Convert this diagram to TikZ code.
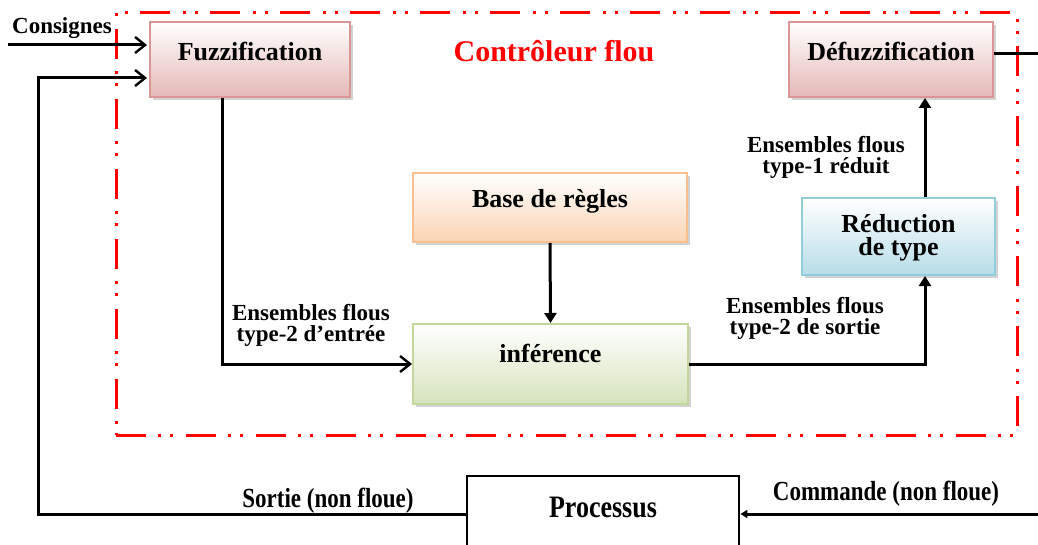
\documentclass[tikz,border=0pt]{standalone}
\usepackage{fontspec}
\setmainfont{Liberation Serif}
\usetikzlibrary{arrows.meta,shadows}
\definecolor{fuzzB}{RGB}{217,150,148}
\definecolor{fuzzF}{RGB}{229,184,183}
\definecolor{baseB}{RGB}{250,191,143}
\definecolor{baseF}{RGB}{251,212,180}
\definecolor{infB}{RGB}{195,214,155}
\definecolor{infF}{RGB}{214,227,188}
\definecolor{redB}{RGB}{146,205,220}
\definecolor{redF}{RGB}{183,221,232}
\definecolor{frameR}{RGB}{255,0,0}
\tikzset{
  gbox/.style={draw=#1B, line width=1pt, top color=white, bottom color=#1F,
    drop shadow={shadow xshift=1.5pt, shadow yshift=-1.5pt, fill=gray, opacity=0.35},
    inner sep=0pt},
  mainlbl/.style={font=\bfseries\fontsize{13}{11.5}\selectfont, align=center, inner sep=0pt},
  smalllbl/.style={font=\bfseries\fontsize{11.5}{10.5}\selectfont, align=center, inner sep=0pt},
  conn/.style={line width=1.5pt, black},
  openarrow/.style={conn, -{Straight Barb[length=5pt,width=8pt,line width=1.2pt]}},
  filledarrow/.style={conn, -{Triangle[length=5pt,width=6pt]}},
  smallarrow/.style={conn, -{Triangle[length=3.5pt,width=4pt]}},
  ctrlframe/.style={draw=frameR, line width=1.5pt,
    dash pattern=on 15pt off 6pt on 1.5pt off 4.5pt on 1.5pt off 6.5pt},
}
\begin{document}
\begin{tikzpicture}[x=0.5pt,y=-0.5pt]
\clip (0,0) rectangle (1038,545);
\fill[white] (0,0) rectangle (1038,545);

% controller frame
\node[ctrlframe, minimum width=450.5pt, minimum height=211pt, inner sep=0pt] (frame) at (566.5,224) {};
\node[font=\bfseries\fontsize{15}{15}\selectfont, text=frameR, inner sep=0pt] (title) at (554,51) {Contrôleur flou};

% boxes
\node[gbox=fuzz, minimum width=100pt, minimum height=37.5pt] (fuzz) at (250,59.5) {};
\node[mainlbl] (fuzzt) at (250,52) {Fuzzification};
\node[gbox=fuzz, minimum width=102pt, minimum height=37.5pt] (defuz) at (891,59.5) {};
\node[mainlbl] (defuzt) at (891,52) {Défuzzification};
\node[gbox=base, minimum width=137pt, minimum height=34.5pt] (base) at (550,207.5) {};
\node[mainlbl] (baset) at (550,201) {Base de règles};
\node[gbox=inf, minimum width=137.5pt, minimum height=40pt] (infer) at (550.5,364) {};
\node[mainlbl] (infert) at (550.5,353) {inférence};
\node[gbox=red, minimum width=96.5pt, minimum height=38.5pt] (red) at (898.5,236.5) {};
\node[mainlbl] (redt) at (898.5,238) {Réduction\\de type};

% process
\node[draw, line width=1.4pt, fill=white, minimum width=136pt, minimum height=38pt, inner sep=0pt] (proc) at (603,514) {};
\node[mainlbl, yscale=1.2] (proct) at (603,507) {Processus};

% labels
\node[smalllbl] (lcons) at (62,28) {Consignes};
\node[smalllbl] (lin) at (311,325) {Ensembles flous\\type-2 d'entrée};
\node[smalllbl] (lout) at (805,318) {Ensembles flous\\type-2 de sortie};
\node[smalllbl] (lred) at (826,157) {Ensembles flous\\type-1 réduit};
\node[smalllbl, yscale=1.2] (lsort) at (328,501) {Sortie (non floue)};
\node[smalllbl, yscale=1.2] (lcmd) at (886,494) {Commande (non floue)};

% coordinates
\coordinate (cin) at (8,45);
\coordinate (fbc) at (38,78);
\coordinate (fx) at (222,365);
\coordinate (colx) at (925,300);
\coordinate (dout) at (1038,54);
\coordinate (cmd) at (1038,514);

% connectors
\draw[openarrow] (cin) -- ([xshift=-1pt]cin -| fuzz.west);
\draw[openarrow] (proc.west) -| (fbc) -- ([xshift=-1pt]fbc -| fuzz.west);
\draw[openarrow] (fx |- fuzz.south) |- (infer.west);
\draw[filledarrow] (base.south) -- (infer.north);
\draw[filledarrow] (infer.east) -| (colx |- red.south);
\draw[filledarrow] (colx |- red.north) -- (colx |- defuz.south);
\draw[conn] (dout -| defuz.east) -- (dout);
\draw[smallarrow] (cmd) -- (proc.east);
\end{tikzpicture}
\end{document}
